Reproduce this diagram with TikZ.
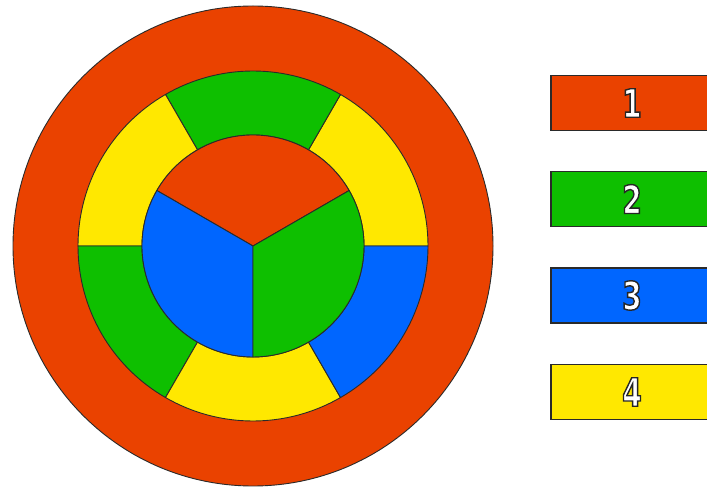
\documentclass[tikz,border=0pt]{standalone}
\usepackage{fontspec}
\newfontfamily\numfont{DejaVu Sans}[FakeStretch=0.72]
\definecolor{cred}{HTML}{EA4200}
\definecolor{cgreen}{HTML}{0EBF00}
\definecolor{cblue}{HTML}{0066FF}
\definecolor{cyellow}{HTML}{FFE800}
\definecolor{cline}{HTML}{2A2A2A}
\newcommand{\outlinenum}[1]{\textcolor{white}{\special{pdf:literal direct 0.15 G 2 Tr 1.4 w}#1\special{pdf:literal direct 0 Tr 1 w}}}
\begin{document}
\begin{tikzpicture}[x=1pt,y=1pt,
  seg/.style={draw=cline,line width=0.9pt,line join=round},
  legbox/.style={draw=cline,line width=1.1pt,minimum width=162pt,minimum height=55pt,inner sep=0pt,
     font=\numfont\bfseries\fontsize{39}{39}\selectfont}]
\useasboundingbox (0,0) rectangle (707,490);
\begin{scope}[shift={(253,244)}]
  % outer ring
  \draw[seg,fill=cred] (0,0) circle (240);
  % middle ring
  \def\Ro{175}\def\Ri{111}
  \foreach \a/\b/\c in {0/60/cyellow,60/120/cgreen,120/180/cyellow,180/240/cgreen,240/300/cyellow,300/360/cblue}{
    \draw[seg,fill=\c] (\a:\Ro) arc[start angle=\a,end angle=\b,radius=\Ro] -- (\b:\Ri) arc[start angle=\b,end angle=\a,radius=\Ri] -- cycle;
  }
  % inner circle
  \draw[seg,fill=cred] (0,0) -- (30:\Ri) arc[start angle=30,end angle=150,radius=\Ri] -- cycle;
  \draw[seg,fill=cblue] (0,0) -- (150:\Ri) arc[start angle=150,end angle=270,radius=\Ri] -- cycle;
  \draw[seg,fill=cgreen] (0,0) -- (270:\Ri) arc[start angle=270,end angle=390,radius=\Ri] -- cycle;
\end{scope}
% legend
\node[legbox,fill=cred] (l1) at (632,387) {\outlinenum{1}};
\node[legbox,fill=cgreen] (l2) at (632,291) {\outlinenum{2}};
\node[legbox,fill=cblue] (l3) at (632,194.5) {\outlinenum{3}};
\node[legbox,fill=cyellow] (l4) at (632,98) {\outlinenum{4}};
\end{tikzpicture}
\end{document}
